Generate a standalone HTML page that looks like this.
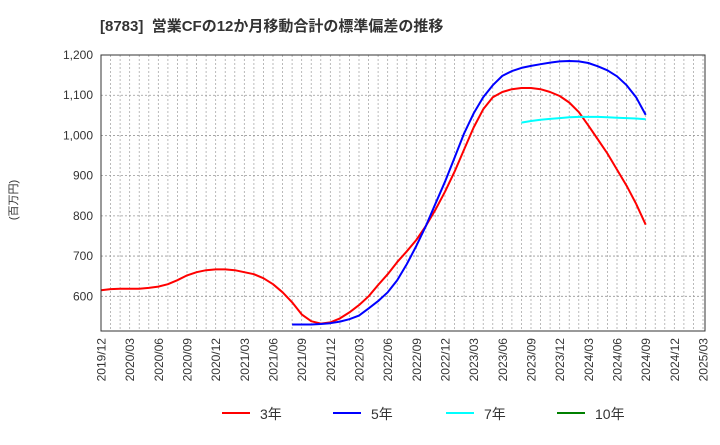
<!DOCTYPE html>
<html><head><meta charset="utf-8"><style>
body{margin:0;background:#fff;width:720px;height:440px;overflow:hidden}
svg{font-family:"Liberation Sans","Noto Sans CJK JP",sans-serif}
</style></head><body>
<svg id="c" width="720" height="440" xmlns="http://www.w3.org/2000/svg">
<text x="100" y="31" font-size="15" font-weight="bold" fill="#333" xml:space="preserve">[8783]  営業CFの12か月移動合計の標準偏差の推移</text>
<text transform="translate(17,200) rotate(-90)" text-anchor="middle" font-size="11" fill="#333">(百万円)</text>
<g id="grid"></g><g id="series"></g><g id="axes"></g>
<g id="legend"></g>
</svg>
<script>
const xLabels=["2019/12","2020/03","2020/06","2020/09","2020/12","2021/03","2021/06","2021/09","2021/12","2022/03","2022/06","2022/09","2022/12","2023/03","2023/06","2023/09","2023/12","2024/03","2024/06","2024/09","2024/12","2025/03"];
const yTicks=[600,700,800,900,1000,1100,1200];
const red3=[615,618,619,619,619,621,624,630,640,652,660,665,667,667,665,660,655,645,630,610,585,555,538,532,535,545,560,578,600,628,655,685,712,740,775,815,860,910,965,1020,1065,1095,1108,1115,1118,1118,1115,1108,1098,1082,1058,1025,990,955,915,875,830,778];
const blue5Start=20;
const blue5=[530,530,530,531,533,537,543,552,570,588,610,640,680,725,775,830,885,945,1005,1055,1095,1125,1148,1160,1168,1173,1177,1181,1184,1185,1184,1180,1172,1162,1147,1125,1095,1051];
const cyan7Start=44;
const cyan7=[1032,1036,1039,1041,1043,1045,1046,1046,1046,1045,1044,1043,1042,1040];
const green10=[];
const L=101,R=705,T=55,B=331,monthW=(703-101)/63;
const xs=m=>L+m*monthW;
const ys=v=>55+(1200-v)*(241.3/600);
const ns="http://www.w3.org/2000/svg";
function mk(tag,attrs,parent){const e=document.createElementNS(ns,tag);for(const k in attrs)e.setAttribute(k,attrs[k]);parent.appendChild(e);return e;}
const grid=document.getElementById('grid'),axes=document.getElementById('axes'),ser=document.getElementById('series');
for(let m=1;m<=63;m++){if(xs(m)>=R)break;const l=mk('line',{x1:xs(m),x2:xs(m),y1:T,y2:B,stroke:'#aaa','stroke-dasharray':'2,2','stroke-width':0.8},grid);

}
yTicks.forEach(v=>{const l=mk('line',{x1:L,x2:R,y1:ys(v),y2:ys(v),stroke:'#999','stroke-dasharray':'2,2','stroke-width':0.8},grid);


const t=mk('text',{x:93,y:ys(v)+4,'text-anchor':'end','font-size':12,fill:'#333'},axes);t.textContent=v.toLocaleString('en-US');

});
const box=mk('rect',{x:L,y:T,width:R-L,height:B-T,fill:'none',stroke:'#333','stroke-width':1},axes);


xLabels.forEach((s,i)=>{const x=xs(i*3);const t=mk('text',{transform:`translate(${x+4.5},${B+7}) rotate(-90)`,'text-anchor':'end','font-size':12,fill:'#333'},axes);t.textContent=s;

});
function line(arr,start,color,name){if(!arr.length)return;const d=arr.map((v,i)=>(i?'L':'M')+xs(start+i).toFixed(1)+','+ys(v).toFixed(1)).join('');
const p=mk('path',{d,fill:'none',stroke:color,'stroke-width':2,'stroke-linejoin':'round'},ser);

}
line(red3,0,'#ff0000','series-3yr');
line(blue5,blue5Start,'#0000ff','series-5yr');
line(cyan7,cyan7Start,'#00ffff','series-7yr');
line(green10,0,'#008000','series-10yr');
const lg=document.getElementById('legend');
[["3年","#ff0000",222],["5年","#0000ff",333],["7年","#00ffff",446],["10年","#008000",557]].forEach(([s,c,x])=>{
const g=mk('g',{},lg);


mk('line',{x1:x,x2:x+28,y1:413,y2:413,stroke:c,'stroke-width':2},g);
const t=mk('text',{x:x+38,y:419,'font-size':14,fill:'#333'},g);t.textContent=s;});
</script>
</body></html>
